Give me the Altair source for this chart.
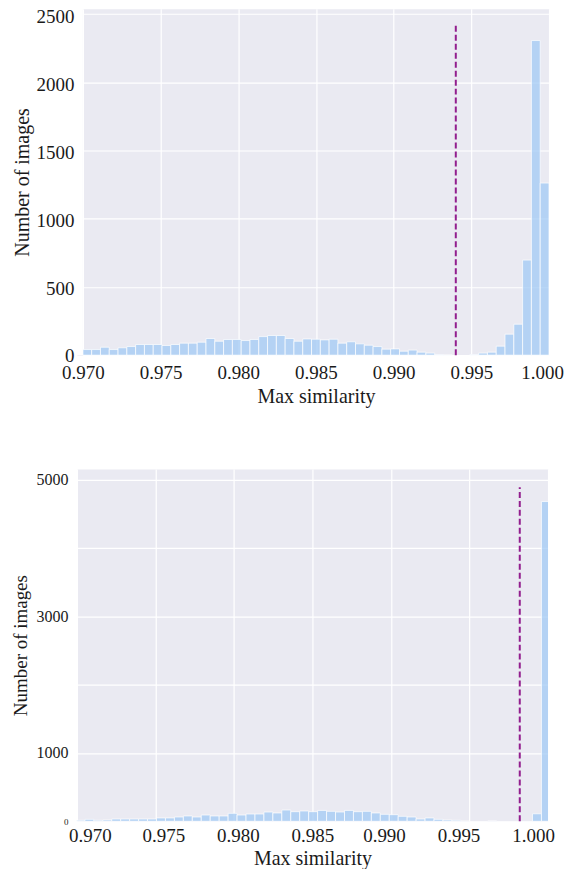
import altair as alt
import pandas as pd

# ---------------- data ----------------
top_counts = [41, 41, 58, 41, 54, 63, 78, 78, 78, 71,
              78, 88, 88, 95, 122, 102, 115, 115, 107, 115,
              136, 144, 144, 122, 102, 119, 117, 112, 117, 88,
              98, 83, 73, 63, 44, 46, 29, 37, 22, 15,
              5, 1, 0, 0, 5, 15, 22, 66, 154, 227,
              697, 2307, 1262]
top_bin_start = 0.970
top_bin_width = 0.000566
top_threshold = 0.994
top_threshold_top = 2415
top_y_max = 2540

bottom_counts = [15, 29, 15, 19, 34, 34, 34, 34, 34, 49,
                 49, 63, 78, 63, 92, 78, 78, 117, 92, 107,
                 107, 136, 122, 165, 141, 151, 141, 160, 146, 136,
                 160, 141, 146, 122, 102, 97, 73, 63, 34, 49,
                 29, 19, 15, 3, 0, 0, 5, 0, 0, 0,
                 0, 110, 4680]
bottom_bin_start = 0.96994
bottom_bin_width = 0.000570
bottom_threshold = 0.9982
bottom_threshold_top = 4890
bottom_y_max = 5157

x_ticks = [0.970, 0.975, 0.980, 0.985, 0.990, 0.995, 1.000]
x_domain = [0.970, 1.000]
top_y_ticks = [0, 500, 1000, 1500, 2000, 2500]
bottom_y_ticks = [0, 1000, 2000, 3000, 4000, 5000]

FONT = "Liberation Serif"
BAR = "#a1c9f4"
PURPLE = "#921e8e"
BG = "#EAEAF2"


def is_val(v):
    return "abs(datum.value - %r) < 1e-6" % v


def panel(counts, start, width, thr, thr_top, ymax, yticks, w, h, inset,
          ylab_size, ytitle_size, ylab_pad, y_extent, xlab_pad, xtitle_pad,
          x_offsets, y_label_shift=0, label_expr=None, zero_size=None):
    df = pd.DataFrame({
        "lo": [start + i * width for i in range(len(counts))],
        "count": counts,
    })
    df["hi"] = df["lo"] + width
    xsc = alt.Scale(domain=x_domain, nice=False, zero=False, range=[inset, w])
    ysc = alt.Scale(domain=[0, ymax], nice=False)

    yaxis_kw = dict(values=yticks, title="Number of images", format="d",
                    labelFontSize=ylab_size, titleFontSize=ytitle_size,
                    labelPadding=ylab_pad, minExtent=y_extent, maxExtent=y_extent,
                    titlePadding=0)
    if y_label_shift:
        yaxis_kw["labelOffset"] = {"condition": {"test": "datum.value == 0", "value": 0},
                                   "value": y_label_shift}
    if label_expr:
        yaxis_kw["labelExpr"] = label_expr
    if zero_size:
        yaxis_kw["labelFontSize"] = {"condition": {"test": "datum.value == 0", "value": zero_size},
                                     "value": ylab_size}

    conds = [{"test": is_val(v), "value": o} for v, o in x_offsets]
    xaxis = alt.Axis(values=x_ticks, format=".3f", title="Max similarity",
                     labelFontSize=19, titleFontSize=20, labelFlush=False,
                     labelPadding=xlab_pad, titlePadding=xtitle_pad,
                     labelOffset={"condition": conds, "value": 0})

    bars = alt.Chart(df).transform_filter("datum.count > 0").mark_bar(
        color=BAR, fillOpacity=0.75, stroke="white", strokeWidth=0.7, clip=True
    ).encode(
        x=alt.X("lo:Q", scale=xsc, axis=xaxis),
        x2="hi:Q",
        y=alt.Y("count:Q", scale=ysc, axis=alt.Axis(**yaxis_kw)),
        y2=alt.datum(0),
    )
    rule = alt.Chart(pd.DataFrame({"x": [thr], "y0": [0], "y1": [thr_top]})).mark_rule(
        color=PURPLE, strokeWidth=2, strokeDash=[6, 3]
    ).encode(x=alt.X("x:Q", scale=xsc), y=alt.Y("y0:Q", scale=ysc), y2="y1:Q")
    layers = [bars, rule]
    if inset > 0:
        # white strip left of the plot area (the panel's plot starts `inset` px to the right)
        mask = alt.Chart(pd.DataFrame({"m": [0]})).mark_rect(color="white").encode(
            x=alt.value(0), x2=alt.value(inset), y=alt.value(0), y2=alt.value(h)
        )
        layers.append(mask)
    return alt.layer(*layers).properties(width=w, height=h)


top = panel(top_counts, top_bin_start, top_bin_width, top_threshold, top_threshold_top,
            top_y_max, top_y_ticks, 473, 347, 6,
            19, 20, 3, 44, 8, 4,
            x_offsets=[(1.0, -7)], y_label_shift=2)
bottom = panel(bottom_counts, bottom_bin_start, bottom_bin_width, bottom_threshold,
               bottom_threshold_top, bottom_y_max, bottom_y_ticks, 472, 353, 0,
               16, 19, 9, 46, 5, 3,
               x_offsets=[(0.97, 13), (0.975, 8), (0.98, 4), (0.99, -7), (0.995, -11), (1.0, -15)],
               label_expr="(datum.value == 2000 || datum.value == 4000) ? '' : datum.label",
               zero_size=9)

chart = alt.vconcat(top, bottom, spacing=61).properties(
    padding={"left": 3, "top": -3, "right": 0, "bottom": 0}
).configure_axis(
    domain=False, ticks=False, gridColor="white", gridWidth=1.2,
    labelFont=FONT, titleFont=FONT, labelColor="#1a1a1a", titleColor="#1a1a1a",
    titleFontWeight="normal"
).configure_view(fill=BG, stroke="transparent")

chart.save("out.html", embed_options={"renderer": "svg", "actions": False})
